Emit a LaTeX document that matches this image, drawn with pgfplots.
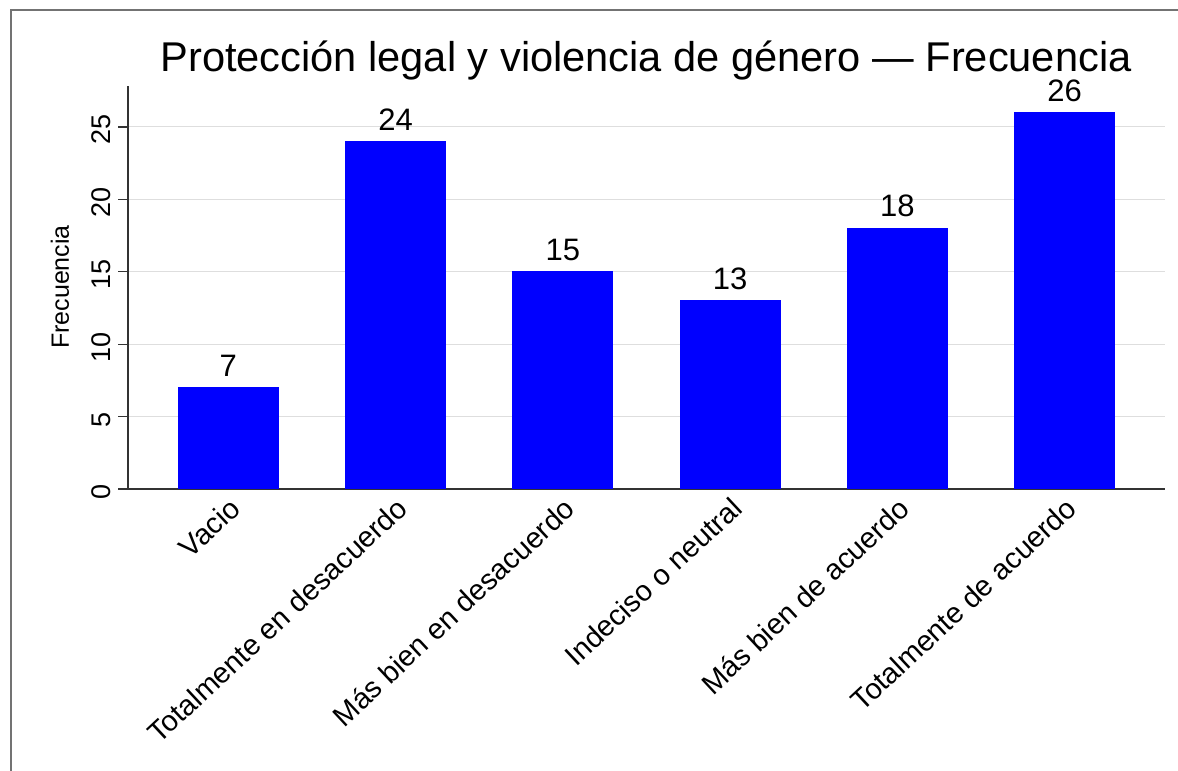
\documentclass[border=0pt]{standalone}
\usepackage{pgfplots}
\pgfplotsset{compat=1.18}
\usepackage{fontspec}
\setmainfont{Liberation Sans}
\begin{document}
\begin{tikzpicture}[x=1pt,y=1pt]
\path[use as bounding box] (0,0) rectangle (589,385.5);
\draw[black!55, line width=1pt] (5.5,0) -- (5.5,380.5) -- (589,380.5);
\node[anchor=base, font=\fontsize{20.8}{24}\selectfont] at (323,349.5) {Protección legal y violencia de género — Frecuencia};
\node[rotate=90, font=\fontsize{12.5}{15}\selectfont] at (30,242) {Frecuencia};
\begin{axis}[
  at={(64pt,141pt)}, anchor=south west,
  scale only axis, width=518.5pt, height=201.5pt,
  xmin=-0.6, xmax=5.6, ymin=0, ymax=27.83,
  axis x line*=bottom, axis y line*=left,
  axis line style={-, black!80, line width=0.6pt},
  ybar, bar width=50pt,
  xtick={0,1,2,3,4,5},
  xticklabels={Vacio, Totalmente en desacuerdo, Más bien en desacuerdo, Indeciso o neutral, Más bien de acuerdo, Totalmente de acuerdo},
  x tick style={draw=none},
  xticklabel style={rotate=43, anchor=east, font=\fontsize{14.5}{17}\selectfont, inner sep=1pt, yshift=-4pt, xshift=2pt},
  ytick={0,5,10,15,20,25},
  y tick style={black!80, line width=0.6pt},
  tick align=outside, major tick length=5pt,
  yticklabel style={rotate=90, anchor=south, font=\fontsize{13.5}{16}\selectfont, xshift=-1.5pt},
  /pgf/number format/assume math mode=true,
  ymajorgrids, grid style={black!13, line width=0.5pt},
  nodes near coords,
  every node near coord/.append style={font=\fontsize{15.5}{18}\selectfont, black, yshift=2pt, /pgf/number format/assume math mode=true},
]
\addplot[fill=blue, draw=blue] coordinates {(0,7) (1,24) (2,15) (3,13) (4,18) (5,26)};
\end{axis}
\end{tikzpicture}
\end{document}
